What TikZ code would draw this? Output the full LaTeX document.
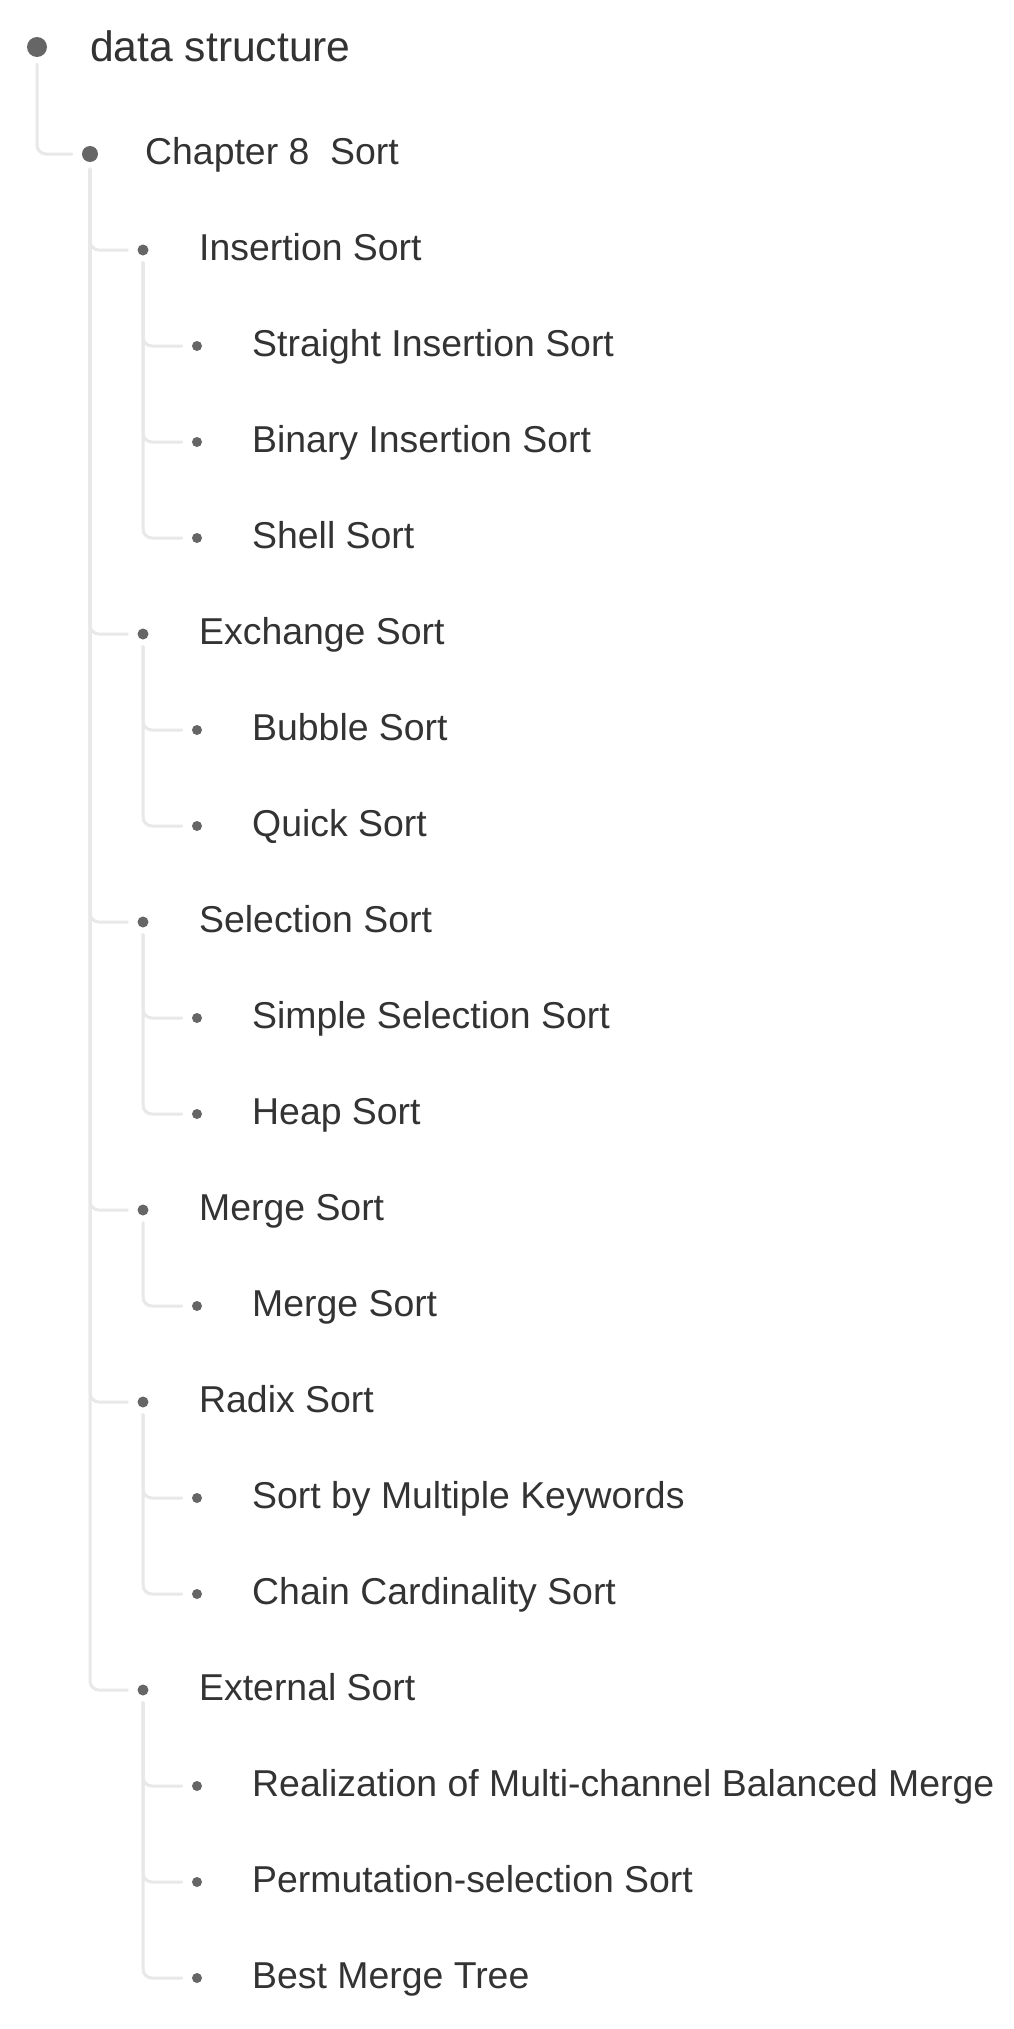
\documentclass[tikz,border=0pt]{standalone}
\usepackage{fontspec}
\setmainfont{Liberation Sans}
\definecolor{txtc}{HTML}{333333}
\definecolor{dotc}{HTML}{666666}
\definecolor{linec}{HTML}{E8E8E8}
\begin{document}
\begin{tikzpicture}[x=1pt,y=-1pt,
  dotbase/.style={circle,fill=dotc,inner sep=0pt},
  dotA/.style={dotbase,minimum size=20pt},
  dotB/.style={dotbase,minimum size=16pt},
  dotC/.style={dotbase,minimum size=11pt},
  dotD/.style={dotbase,minimum size=10pt},
  lbl/.style={anchor=base west,inner sep=0pt,text=txtc,font=\fontsize{37.4}{44}\selectfont},
  rootlbl/.style={lbl,font=\fontsize{42.6}{50}\selectfont},
  conn/.style={draw=linec,line width=3pt,rounded corners=9pt,line cap=round}]
\useasboundingbox[fill=white] (0,0) rectangle (1013,2029);
% dots
\node[dotA] (d0) at (37,47) {};
\node[dotB] (d1) at (90,154) {};
\node[dotC] (d2) at (143,250) {};
\node[dotD] (d3) at (197,346) {};
\node[dotD] (d4) at (197,442) {};
\node[dotD] (d5) at (197,538) {};
\node[dotC] (d6) at (143,634) {};
\node[dotD] (d7) at (197,730) {};
\node[dotD] (d8) at (197,826) {};
\node[dotC] (d9) at (143,922) {};
\node[dotD] (d10) at (197,1018) {};
\node[dotD] (d11) at (197,1114) {};
\node[dotC] (d12) at (143,1210) {};
\node[dotD] (d13) at (197,1306) {};
\node[dotC] (d14) at (143,1402) {};
\node[dotD] (d15) at (197,1498) {};
\node[dotD] (d16) at (197,1594) {};
\node[dotC] (d17) at (143,1690) {};
\node[dotD] (d18) at (197,1786) {};
\node[dotD] (d19) at (197,1882) {};
\node[dotD] (d20) at (197,1978) {};
% labels
\node[rootlbl] (t0) at (90,61) {data structure};
\node[lbl] (t1) at (145,164) {Chapter 8\ \ Sort};
\node[lbl] (t2) at (199,260) {Insertion Sort};
\node[lbl] (t3) at (252,356) {Straight Insertion Sort};
\node[lbl] (t4) at (252,452) {Binary Insertion Sort};
\node[lbl] (t5) at (252,548) {Shell Sort};
\node[lbl] (t6) at (199,644) {Exchange Sort};
\node[lbl] (t7) at (252,740) {Bubble Sort};
\node[lbl] (t8) at (252,836) {Quick Sort};
\node[lbl] (t9) at (199,932) {Selection Sort};
\node[lbl] (t10) at (252,1028) {Simple Selection Sort};
\node[lbl] (t11) at (252,1124) {Heap Sort};
\node[lbl] (t12) at (199,1220) {Merge Sort};
\node[lbl] (t13) at (252,1316) {Merge Sort};
\node[lbl] (t14) at (199,1412) {Radix Sort};
\node[lbl] (t15) at (252,1508) {Sort by Multiple Keywords};
\node[lbl] (t16) at (252,1604) {Chain Cardinality Sort};
\node[lbl] (t17) at (199,1700) {External Sort};
\node[lbl] (t18) at (252,1796) {Realization of Multi-channel Balanced Merge};
\node[lbl] (t19) at (252,1892) {Permutation-selection Sort};
\node[lbl] (t20) at (252,1988) {Best Merge Tree};
% connectors
\foreach \p/\c in {d0/d1, d1/d2, d1/d6, d1/d9, d1/d12, d1/d14, d1/d17,
  d2/d3, d2/d4, d2/d5, d6/d7, d6/d8, d9/d10, d9/d11, d12/d13,
  d14/d15, d14/d16, d17/d18, d17/d19, d17/d20}
  \draw[conn] ([yshift=-7pt]\p.south) |- ([xshift=-10pt]\c.west);
\end{tikzpicture}
\end{document}
